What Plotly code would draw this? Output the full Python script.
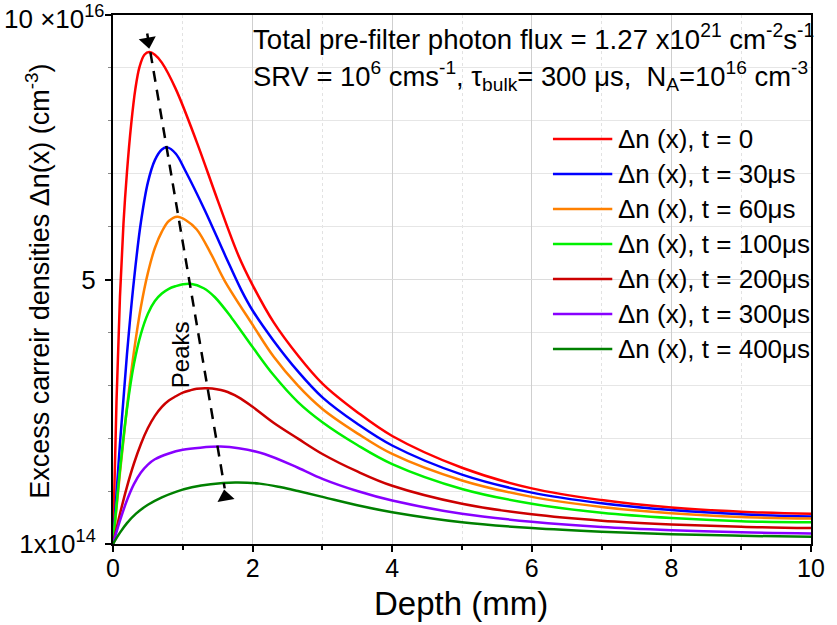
import plotly.graph_objects as go

# ---- data (values in units of 1e16 cm^-3), depth in mm ----
names = ["Δn (x), t = 0", "Δn (x), t = 30μs", "Δn (x), t = 60μs", "Δn (x), t = 100μs",
         "Δn (x), t = 200μs", "Δn (x), t = 300μs", "Δn (x), t = 400μs"]
colors = ["#ff0000", "#0000ff", "#ff8000", "#00f000", "#cc0000", "#8800ff", "#008000"]

x_t0 = [0, 0.05, 0.1, 0.15, 0.2, 0.26, 0.32, 0.38, 0.45, 0.52, 0.6, 0.7, 0.9, 1.2, 1.5, 1.8, 2.0, 2.3, 2.65, 3, 3.5, 4, 5, 6, 7, 8, 9, 10]
y_t0 = [0.01, 2.69, 4.69, 6.06, 7.03, 7.93, 8.6, 9.02, 9.25, 9.3, 9.25, 9.1, 8.6, 7.6, 6.5, 5.45, 4.9, 4.2, 3.57, 3.04, 2.5, 2.05, 1.45, 1.06, 0.84, 0.70, 0.62, 0.58]

x_t30 = [0, 0.1, 0.2, 0.3, 0.4, 0.5, 0.6, 0.7, 0.78, 0.9, 1.04, 1.32, 1.61, 1.84, 2.0, 2.3, 2.65, 3, 3.5, 4, 5, 6, 7, 8, 9, 10]
y_t30 = [0.01, 1.91, 3.59, 4.99, 6.09, 6.84, 7.26, 7.46, 7.5, 7.38, 7.05, 6.3, 5.45, 4.8, 4.42, 3.85, 3.27, 2.78, 2.28, 1.87, 1.32, 0.98, 0.78, 0.65, 0.57, 0.53]

x_t60 = [0, 0.1, 0.2, 0.3, 0.4, 0.5, 0.6, 0.7, 0.8, 0.92, 1.05, 1.2, 1.4, 1.6, 2.0, 2.3, 2.65, 3, 3.5, 4, 5, 6, 7, 8, 9, 10]
y_t60 = [0.01, 1.36, 2.59, 3.64, 4.49, 5.13, 5.6, 5.91, 6.11, 6.19, 6.12, 5.95, 5.5, 4.98, 4.15, 3.55, 3.0, 2.56, 2.1, 1.71, 1.21, 0.90, 0.71, 0.59, 0.52, 0.49]

x_t100 = [0, 0.1, 0.2, 0.3, 0.4, 0.5, 0.6, 0.7, 0.8, 0.9, 1.0, 1.11, 1.3, 1.46, 1.7, 2.0, 2.3, 2.65, 3, 3.5, 4, 5, 6, 7, 8, 9, 10]
y_t100 = [0.01, 1.41, 2.56, 3.41, 3.98, 4.36, 4.6, 4.74, 4.83, 4.88, 4.915, 4.925, 4.84, 4.67, 4.28, 3.73, 3.2, 2.69, 2.31, 1.88, 1.52, 1.05, 0.77, 0.60, 0.50, 0.44, 0.42]

x_t200 = [0, 0.1, 0.2, 0.3, 0.4, 0.5, 0.6, 0.7, 0.8, 0.9, 1.0, 1.1, 1.2, 1.35, 1.6, 1.8, 2.0, 2.3, 2.65, 3, 3.5, 4, 5, 6, 7, 8, 9, 10]
y_t200 = [0.01, 0.58, 1.09, 1.53, 1.9, 2.2, 2.43, 2.6, 2.72, 2.8, 2.87, 2.91, 2.94, 2.95, 2.9, 2.78, 2.6, 2.3, 2.0, 1.71, 1.38, 1.11, 0.77, 0.57, 0.45, 0.38, 0.335, 0.31]

x_t300 = [0, 0.1, 0.2, 0.3, 0.4, 0.5, 0.6, 0.8, 1.0, 1.25, 1.54, 1.8, 2.17, 2.65, 3, 3.5, 4, 5, 6, 7, 8, 9, 10]
y_t300 = [0.01, 0.45, 0.835, 1.14, 1.36, 1.51, 1.61, 1.72, 1.79, 1.83, 1.85, 1.82, 1.71, 1.45, 1.24, 1.01, 0.83, 0.58, 0.43, 0.33, 0.27, 0.23, 0.21]

x_t400 = [0, 0.1, 0.2, 0.33, 0.5, 0.7, 0.9, 1.13, 1.4, 1.75, 2.1, 2.41, 2.65, 3, 3.5, 4, 5, 6, 7, 8, 9, 10]
y_t400 = [0.01, 0.225, 0.405, 0.584, 0.75, 0.89, 0.995, 1.08, 1.14, 1.17, 1.15, 1.08, 1.01, 0.90, 0.74, 0.61, 0.42, 0.31, 0.24, 0.195, 0.165, 0.145]

xs = [x_t0, x_t30, x_t60, x_t100, x_t200, x_t300, x_t400]
ys = [y_t0, y_t30, y_t60, y_t100, y_t200, y_t300, y_t400]

# "Peaks" guide arrow (data coords)
arrow_x = [0.49, 1.60]
arrow_y = [9.65, 1.06]
head_x = [0.50, 1.61]
head_y = [9.50, 0.90]

y_tickvals = [0.01, 5, 10]
y_ticktext = ["1x10<sup>14</sup>", "5", ""]
y_top_label = "10 ×10<sup>16</sup>"
x_tickvals = [0, 2, 4, 6, 8, 10]

FONT = "Liberation Sans, Arial, sans-serif"

fig = go.Figure()
for n, c, x, y in zip(names, colors, xs, ys):
    fig.add_trace(go.Scatter(x=x, y=y, mode="lines", name=n, showlegend=False,
                             line=dict(color=c, width=2.5, shape="spline", smoothing=1.0)))

fig.add_trace(go.Scatter(x=arrow_x, y=arrow_y, mode="lines", showlegend=False,
                         line=dict(color="black", width=2.5, dash="11px,8px")))
fig.add_trace(go.Scatter(x=head_x, y=head_y, mode="markers", showlegend=False,
                         marker=dict(symbol=["triangle-down", "triangle-up"], size=15,
                                     color="black", angle=-10)))

W, H = 837, 625
L, R, T, B = 113, 18, 15, 81
pw, ph = W - L - R, H - T - B

def px(xp):
    return (xp - L) / pw

def py(yp):
    return (H - B - yp) / ph

fig.update_layout(
    width=W, height=H,
    margin=dict(l=L, r=R, t=T, b=B, pad=0),
    plot_bgcolor="white", paper_bgcolor="white",
    font=dict(family=FONT, color="black", size=20),
    showlegend=False,
    xaxis=dict(range=[0, 10], tickvals=x_tickvals, ticktext=[str(v) for v in x_tickvals],
               showline=True, linecolor="black", linewidth=2, mirror=True,
               ticks="outside", ticklen=6, tickwidth=2, tickcolor="black",
               tickfont=dict(size=25), ticklabelstandoff=-5,
               showgrid=True, gridcolor="#cfcfcf", gridwidth=1, zeroline=False,
               minor=dict(dtick=1, tick0=0, ticks="outside", ticklen=4, tickwidth=1.5,
                          tickcolor="black", showgrid=True, gridcolor="#e2e2e2", griddash="dot")),
    yaxis=dict(range=[0.01, 10], tickvals=y_tickvals, ticktext=y_ticktext,
               showline=True, linecolor="black", linewidth=2, mirror=True,
               ticks="outside", ticklen=6, tickwidth=2, tickcolor="black",
               tickfont=dict(size=26), ticklabelstandoff=4,
               showgrid=True, gridcolor="#dcdcdc", gridwidth=1, zeroline=False,
               minor=dict(tickvals=[1, 2, 3, 4, 6, 7, 8, 9], ticks="outside", ticklen=3,
                          tickwidth=1, tickcolor="#888888", showgrid=True, gridcolor="#e6e6e6")),
)

# legend (drawn as line samples + text, placed like the original)
leg_y0, leg_dy = 139, 35
for i, (n, c) in enumerate(zip(names, colors)):
    yy = py(leg_y0 + i * leg_dy)
    fig.add_shape(type="line", xref="paper", yref="paper", x0=px(558), x1=px(618), y0=yy, y1=yy,
                  line=dict(color=c, width=2.5))
    fig.add_annotation(xref="paper", yref="paper", x=px(622), y=yy, xanchor="left", yanchor="middle",
                       text=n, showarrow=False, font=dict(size=26, family=FONT))

fig.add_annotation(xref="paper", yref="paper", x=px(106), y=py(17), xanchor="right", yanchor="middle",
                   text=y_top_label, showarrow=False, font=dict(size=26, family=FONT))
fig.add_annotation(xref="paper", yref="paper", x=px(465), y=py(603), xanchor="center", yanchor="middle",
                   text="Depth (mm)", showarrow=False, font=dict(size=33, family=FONT))
fig.add_annotation(xref="paper", yref="paper", x=px(37), y=py(281), xanchor="center", yanchor="middle",
                   text="Excess carreir densities Δn(x) (cm<sup>-3</sup>)", textangle=-90,
                   showarrow=False, font=dict(size=27, family=FONT))
fig.add_annotation(xref="paper", yref="paper", x=px(253), y=py(38), xanchor="left", yanchor="middle",
                   text="Total pre-filter photon flux = 1.27 x10<sup>21</sup> cm<sup>-2</sup>s<sup>-1</sup>",
                   showarrow=False, font=dict(size=27.6, family=FONT))
fig.add_annotation(xref="paper", yref="paper", x=px(253), y=py(76), xanchor="left", yanchor="middle",
                   text="SRV = 10<sup>6</sup> cms<sup>-1</sup>, τ<sub>bulk</sub>= 300 μs,  N<sub>A</sub>=10<sup>16</sup> cm<sup>-3</sup>",
                   showarrow=False, font=dict(size=27.4, family=FONT))
fig.add_annotation(xref="paper", yref="paper", x=px(182), y=py(355), xanchor="center", yanchor="middle",
                   text="Peaks", textangle=-90, showarrow=False, font=dict(size=24, family=FONT))

fig.write_html("out.html")
